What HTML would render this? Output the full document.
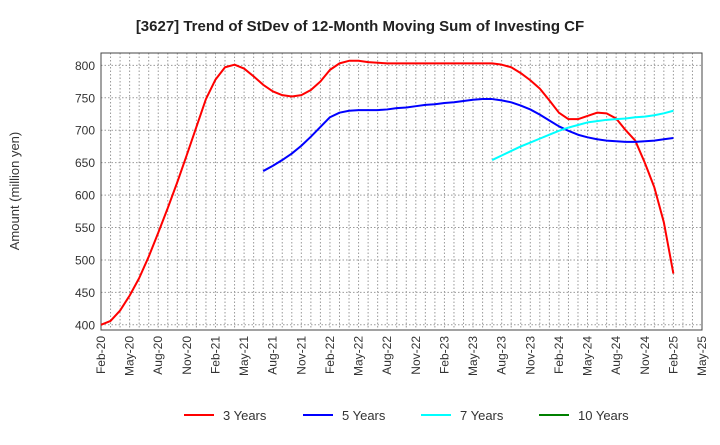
<!DOCTYPE html>
<html><head><meta charset="utf-8"><style>
body{margin:0;background:#fff;font-family:"Liberation Sans",sans-serif;}
svg text{font-family:"Liberation Sans",sans-serif;}
</style></head><body>
<svg id="c" width="720" height="440" xmlns="http://www.w3.org/2000/svg">
<text x="360" y="31" text-anchor="middle" font-size="15" font-weight="bold" fill="#222">[3627]  Trend of StDev of 12-Month Moving Sum of Investing CF</text>
<text transform="translate(19,191) rotate(-90)" text-anchor="middle" font-size="13" fill="#333">Amount (million yen)</text>
<g id="grid"></g><g id="axes"></g><g id="series"></g><g id="legend"></g>
</svg>
<script>
const xLabels=["Feb-20","May-20","Aug-20","Nov-20","Feb-21","May-21","Aug-21","Nov-21","Feb-22","May-22","Aug-22","Nov-22","Feb-23","May-23","Aug-23","Nov-23","Feb-24","May-24","Aug-24","Nov-24","Feb-25","May-25"];
const yTicks=[400,450,500,550,600,650,700,750,800];
const seriesNames=["3 Years","5 Years","7 Years","10 Years"];
const seriesColors=["#ff0000","#0000ff","#00ffff","#008000"];
const red=[400,406,422,445,472,505,542,580,620,662,705,748,778,797,801,795,783,770,760,754,752,754,762,775,793,803,807,807,805,804,803,803,803,803,803,803,803,803,803,803,803,803,801,797,788,777,764,746,727,717,717,722,727,726,718,700,684,650,612,558,479];
const redStart=0;
const blue=[637,645,654,664,676,690,705,720,727,730,731,731,731,732,734,735,737,739,740,742,743,745,747,748,748,746,743,738,732,724,715,706,699,693,689,686,684,683,682,682,683,684,686,688];
const blueStart=17;
const cyan=[654,661,668,675,681,687,693,699,704,708,712,714,716,717,718,720,721,723,726,730];
const cyanStart=41;
const green=[];
const greenStart=0;
const L=101,R=702,T=53,B=330,yMin=392,yMax=819,nMonths=63;
const X=i=>L+i*(R-L)/nMonths;
const Y=v=>B-(v-yMin)/(yMax-yMin)*(B-T);
const NS="http://www.w3.org/2000/svg";
function mk(tag,attrs,parent){const e=document.createElementNS(NS,tag);for(const k in attrs)e.setAttribute(k,attrs[k]);parent.appendChild(e);return e;}
const grid=document.getElementById('grid'),axes=document.getElementById('axes'),ser=document.getElementById('series'),leg=document.getElementById('legend');
for(let i=1;i<nMonths;i++){const l=mk('line',{x1:X(i),x2:X(i),y1:T,y2:B,stroke:'#999','stroke-width':1,'stroke-dasharray':'1.5,2'},grid);

}
yTicks.forEach(v=>{const l=mk('line',{x1:L,x2:R,y1:Y(v),y2:Y(v),stroke:'#999','stroke-width':1,'stroke-dasharray':'1.5,2'},grid);


const t=mk('text',{x:L-6,y:Y(v)+4.5,'text-anchor':'end','font-size':12,fill:'#333'},axes);t.textContent=v;

});
xLabels.forEach((s,k)=>{const x=X(k*3);const t=mk('text',{transform:`translate(${x+4},${B+6}) rotate(-90)`,'text-anchor':'end','font-size':12,fill:'#333'},axes);t.textContent=s;

});
const box=mk('rect',{x:L,y:T,width:R-L,height:B-T,fill:'none',stroke:'#444','stroke-width':1},axes);


function draw(arr,start,color,name){if(!arr.length)return;const p=mk('polyline',{points:arr.map((v,i)=>X(start+i)+','+Y(v)).join(' '),fill:'none',stroke:color,'stroke-width':2,'stroke-linejoin':'round'},ser);

}
draw(red,redStart,seriesColors[0],'line-3-years');
draw(blue,blueStart,seriesColors[1],'line-5-years');
draw(cyan,cyanStart,seriesColors[2],'line-7-years');
draw(green,greenStart,seriesColors[3],'line-10-years');
const lx=[184,303,421,539];
seriesNames.forEach((n,i)=>{const g=mk('g',{},leg);


mk('line',{x1:lx[i],x2:lx[i]+30,y1:415,y2:415,stroke:seriesColors[i],'stroke-width':2},g);
const t=mk('text',{x:lx[i]+39,y:420,'font-size':13,fill:'#333'},g);t.textContent=n;});
</script>
</body></html>
